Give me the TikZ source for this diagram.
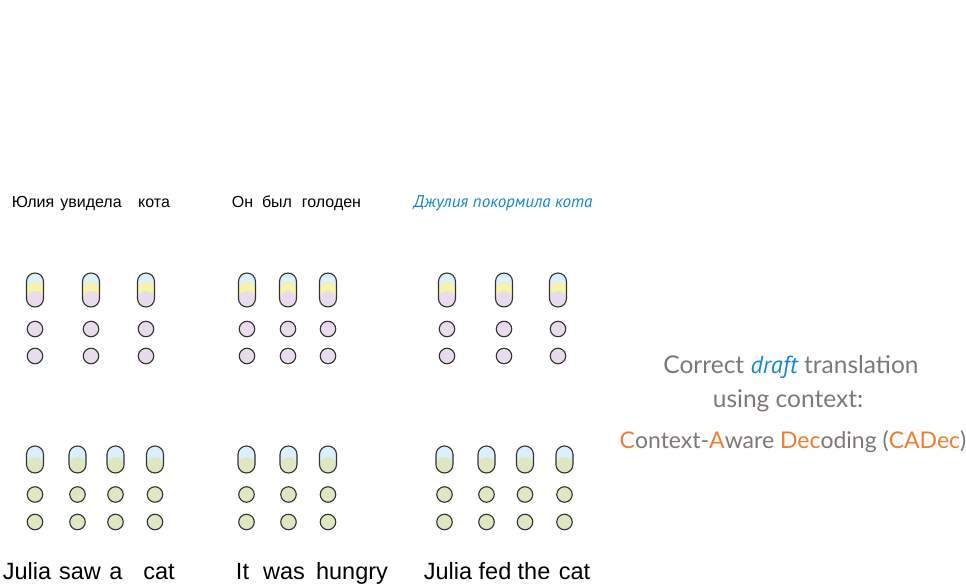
\documentclass[tikz,border=0pt]{standalone}
\usepackage{fontspec}
\setmainfont{Liberation Sans}
\newfontfamily\manoFont{PT Sans}
\newfontfamily\grisFont{Lato}

\definecolor{azulTok}{RGB}{220,239,252}
\definecolor{amarilloTok}{RGB}{247,243,168}
\definecolor{rosaTok}{RGB}{232,219,236}
\definecolor{verdeTok}{RGB}{221,232,194}
\definecolor{bordeTok}{RGB}{50,50,50}
\definecolor{azulTexto}{RGB}{20,135,205}
\definecolor{grisTexto}{RGB}{125,120,118}
\definecolor{naranja}{RGB}{240,125,50}

\tikzset{
  borde/.style={draw=bordeTok, line width=1.1pt},
  tok/.style={circle, borde, minimum size=15.5pt, inner sep=0pt},
  tokSrc/.style={tok, fill=rosaTok},
  tokTgt/.style={tok, fill=verdeTok},
  ruLabel/.style={anchor=base, font=\fontsize{16}{19}\selectfont, text=black},
  enLabel/.style={anchor=base, font=\fontsize{23.5}{28}\selectfont, text=black},
  draftLabel/.style={anchor=base, font=\manoFont\itshape\fontsize{17}{20}\selectfont, text=azulTexto},
  notaLabel/.style={anchor=base, font=\grisFont\fontsize{24.5}{29}\selectfont, text=grisTexto},
  % capsula de la frase fuente (azul / amarillo / rosa)
  capsulaSrc/.pic={
    \begin{scope}
      \clip[rounded corners=8.5pt] (-8.5,-17) rectangle (8.5,17);
      \fill[azulTok] (-9,-18) rectangle (9,18);
      \fill[amarilloTok] (0,0.5) circle (8.5);
      \fill[rosaTok] (0,9.5) circle (8.5);
      \fill[rosaTok] (-9,9.5) rectangle (9,18);
    \end{scope}
    \draw[borde, rounded corners=8.5pt] (-8.5,-17) rectangle (8.5,17);
  },
  % capsula de la frase destino (azul / verde)
  capsulaTgt/.pic={
    \begin{scope}
      \clip[rounded corners=8.5pt] (-8.5,-13.5) rectangle (8.5,13.5);
      \fill[azulTok] (-9,-14) rectangle (9,14);
      \fill[verdeTok] (0,6) circle (8.5);
      \fill[verdeTok] (-9,6) rectangle (9,14);
    \end{scope}
    \draw[borde, rounded corners=8.5pt] (-8.5,-13.5) rectangle (8.5,13.5);
  },
}

\begin{document}
\begin{tikzpicture}[x=1pt, y=-1pt]

  % Marco (pixeles de la referencia, y hacia abajo)
  \useasboundingbox (0,0) rectangle (966,585);

  % Frases en ruso (borrador en azul)
  \foreach \x/\w [count=\i] in {33/Юлия, 91/увидела, 154/кота, 242.5/Он, 277/был, 331.5/голоден} {
    \node[ruLabel] (ru\i) at (\x,208) {\w};
  }
  \node[draftLabel] (ruDraft) at (503,208) {Джулия покормила кота};

  % Vectores de la frase fuente
  \foreach \x [count=\i] in {35,91,146,247,288,328,447,504,558} {
    \pic (srcCap\i) at (\x,290) {capsulaSrc};
    \node[tokSrc] (srcA\i) at (\x,329) {};
    \node[tokSrc] (srcB\i) at (\x,356) {};
  }

  % Vectores de la frase destino
  \foreach \x [count=\i] in {35,77.5,115.5,155,246.5,288.5,328,444.5,486.5,525,564.5} {
    \pic (tgtCap\i) at (\x,459.5) {capsulaTgt};
    \node[tokTgt] (tgtA\i) at (\x,494.5) {};
    \node[tokTgt] (tgtB\i) at (\x,522) {};
  }

  % Frases en ingles
  \foreach \x/\w [count=\i] in {27/Julia, 80/saw, 116/a, 159/cat, 242.5/It, 284/was, 352/hungry,
                                448/Julia, 495/fed, 534/the, 574.5/cat} {
    \node[enLabel] (en\i) at (\x,579) {\w};
  }

  % Nota a la derecha
  \node[notaLabel] (nota1) at (791,373)
    {Correct {\manoFont\itshape\color{azulTexto}draft} translation};
  \node[notaLabel] (nota2) at (788,407) {using context:};
  \node[notaLabel, font=\grisFont\fontsize{23}{28}\selectfont] (nota3) at (793,448)
    {{\color{naranja}C}ontext-{\color{naranja}A}ware {\color{naranja}Dec}oding
     ({\color{naranja}CADec})};

\end{tikzpicture}
\end{document}
